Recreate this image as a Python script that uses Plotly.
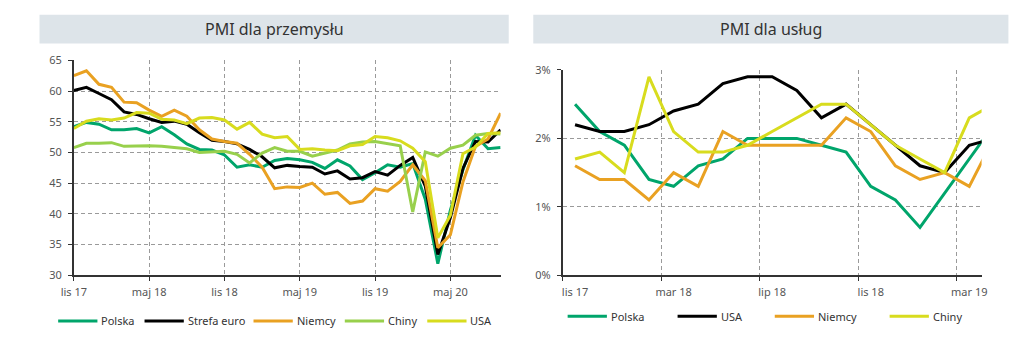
import plotly.graph_objects as go

W, H = 1036, 350


def px(x):
    return x / W


def py(y):
    return 1 - y / H


# ---------------- data: left chart (PMI dla przemysłu) ----------------
months_left = ["lis 17", "gru 17", "sty 18", "lut 18", "mar 18", "kwi 18", "maj 18",
               "cze 18", "lip 18", "sie 18", "wrz 18", "paź 18", "lis 18", "gru 18",
               "sty 19", "lut 19", "mar 19", "kwi 19", "maj 19", "cze 19", "lip 19",
               "sie 19", "wrz 19", "paź 19", "lis 19", "gru 19", "sty 20", "lut 20",
               "mar 20", "kwi 20", "maj 20", "cze 20", "lip 20", "sie 20", "wrz 20"]
pmi_polska = [54.2, 54.9, 54.6, 53.7, 53.7, 53.9, 53.2, 54.2, 52.9, 51.4, 50.5, 50.4,
              49.6, 47.6, 48.0, 47.6, 48.7, 49.0, 48.8, 48.4, 47.4, 48.8, 47.8, 45.6,
              46.7, 48.0, 47.6, 48.2, 42.4, 31.9, 40.6, 47.2, 52.8, 50.6, 50.8]
pmi_strefa = [60.1, 60.6, 59.6, 58.6, 56.6, 56.2, 55.5, 54.9, 55.1, 54.6, 53.2, 52.0,
              51.8, 51.4, 50.5, 49.3, 47.5, 47.9, 47.7, 47.6, 46.5, 47.0, 45.7, 45.9,
              46.9, 46.3, 47.9, 49.2, 44.5, 33.4, 39.4, 47.4, 51.8, 51.7, 53.7]
pmi_niemcy = [62.5, 63.3, 61.1, 60.6, 58.2, 58.1, 56.9, 55.9, 56.9, 55.9, 53.7, 52.2,
              51.8, 51.5, 49.7, 47.6, 44.1, 44.4, 44.3, 45.0, 43.2, 43.5, 41.7, 42.1,
              44.1, 43.7, 45.3, 48.0, 45.4, 34.5, 36.6, 45.2, 51.0, 52.2, 56.4]
pmi_chiny = [50.8, 51.5, 51.5, 51.6, 51.0, 51.1, 51.1, 51.0, 50.8, 50.6, 50.0, 50.1,
             50.2, 49.7, 48.3, 49.9, 50.8, 50.2, 50.2, 49.4, 49.9, 50.4, 51.4, 51.7,
             51.8, 51.5, 51.1, 40.3, 50.1, 49.4, 50.7, 51.2, 52.8, 53.1, 53.0]
pmi_usa = [53.9, 55.1, 55.5, 55.3, 55.6, 56.5, 56.4, 55.4, 55.3, 54.7, 55.6, 55.7,
           55.3, 53.8, 54.9, 53.0, 52.4, 52.6, 50.5, 50.6, 50.4, 50.3, 51.1, 51.3,
           52.6, 52.4, 51.9, 50.7, 48.5, 36.1, 39.8, 49.8, 50.9, 53.1, 53.2]
left_tick_idx = [0, 6, 12, 18, 24, 30]
left_yticks = [30, 35, 40, 45, 50, 55, 60, 65]

# ---------------- data: right chart (PMI dla usług) ----------------
months_right = ["lis 17", "gru 17", "sty 18", "lut 18", "mar 18", "kwi 18", "maj 18",
                "cze 18", "lip 18", "sie 18", "wrz 18", "paź 18", "lis 18", "gru 18",
                "sty 19", "lut 19", "mar 19", "kwi 19"]
r_polska = [2.5, 2.1, 1.9, 1.4, 1.3, 1.6, 1.7, 2.0, 2.0, 2.0, 1.9, 1.8, 1.3, 1.1, 0.7,
            1.2, 1.7, 2.2]
r_usa = [2.2, 2.1, 2.1, 2.2, 2.4, 2.5, 2.8, 2.9, 2.9, 2.7, 2.3, 2.5, 2.2, 1.9, 1.6,
         1.5, 1.9, 2.0]
r_niemcy = [1.6, 1.4, 1.4, 1.1, 1.5, 1.3, 2.1, 1.9, 1.9, 1.9, 1.9, 2.3, 2.1, 1.6, 1.4,
            1.5, 1.3, 2.0]
r_chiny = [1.7, 1.8, 1.5, 2.9, 2.1, 1.8, 1.8, 1.9, 2.1, 2.3, 2.5, 2.5, 2.2, 1.9, 1.7,
           1.5, 2.3, 2.5]
right_tick_idx = [0, 4, 8, 12, 16]
right_yticks = [0, 1, 2, 3]
right_yticktext = ["0%", "1%", "2%", "3%"]

C_GREEN = "#00a56b"
C_BLACK = "#000000"
C_ORANGE = "#e9a122"
C_LGREEN = "#98d04c"
C_YELLOW = "#d8dc1e"

FONT = "Noto Sans"
GRID = "#9a9a9a"
AXIS = "#333333"
TICKC = "#555555"
TEXTC = "#333333"

fig = go.Figure()

xl = list(range(len(months_left)))
xr = list(range(len(months_right)))

left_series = [("Polska", pmi_polska, C_GREEN, 46),
               ("Strefa euro", pmi_strefa, C_BLACK, 134),
               ("Niemcy", pmi_niemcy, C_ORANGE, 245),
               ("Chiny", pmi_chiny, C_LGREEN, 338),
               ("USA", pmi_usa, C_YELLOW, 422)]
right_series = [("Polska", r_polska, C_GREEN, 565),
                ("USA", r_usa, C_BLACK, 677),
                ("Niemcy", r_niemcy, C_ORANGE, 776),
                ("Chiny", r_chiny, C_YELLOW, 893)]


def add_legend_key(name, col, lx, ly):
    fig.add_shape(type="line", xref="paper", yref="paper", x0=px(lx), x1=px(lx + 40),
                  y0=py(ly), y1=py(ly), line=dict(color=col, width=3))
    fig.add_annotation(text=name, xref="paper", yref="paper", x=px(lx + 42), y=py(ly),
                       xanchor="left", yanchor="middle", showarrow=False,
                       font=dict(family=FONT, size=11, color=TEXTC))


for name, vals, col, lx in left_series:
    fig.add_trace(go.Scatter(x=xl, y=vals, mode="lines", name=name,
                             line=dict(color=col, width=3),
                             xaxis="x", yaxis="y", hoverinfo="skip", showlegend=False))
    add_legend_key(name, col, lx, 327)
for name, vals, col, lx in right_series:
    fig.add_trace(go.Scatter(x=xr, y=vals, mode="lines", name=name,
                             line=dict(color=col, width=3),
                             xaxis="x2", yaxis="y2", hoverinfo="skip", showlegend=False))
    add_legend_key(name, col, lx, 322)

common_axis = dict(showline=True, linecolor=AXIS, linewidth=1.5, zeroline=False,
                   tickfont=dict(family=FONT, size=11, color=TICKC),
                   gridcolor=GRID, gridwidth=1, griddash="4px,3px",
                   tickcolor=AXIS, fixedrange=True)

fig.update_layout(
    width=W, height=H, autosize=False,
    margin=dict(l=0, r=0, t=0, b=0),
    paper_bgcolor="white", plot_bgcolor="white",
    font=dict(family=FONT, color=TEXTC),
    showlegend=False,
    xaxis=dict(domain=[px(62), px(496.7)], range=[0, len(months_left) - 1],
               tickmode="array", tickvals=left_tick_idx,
               ticktext=[months_left[i] for i in left_tick_idx],
               showgrid=True, ticks="outside", ticklen=4, ticklabelstandoff=2,
               anchor="y", **common_axis),
    yaxis=dict(domain=[py(279.3), py(54.7)], range=[30, 65], tickmode="array",
               tickvals=left_yticks, showgrid=True, ticks="outside", ticklen=4,
               ticklabelstandoff=4, anchor="x", **common_axis),
    xaxis2=dict(domain=[px(560), px(986.7)], range=[-0.5, 16.5],
                tickmode="array", tickvals=right_tick_idx,
                ticktext=[months_right[i] for i in right_tick_idx],
                showgrid=False, ticks="", ticklabelstandoff=6, anchor="y2",
                minor=dict(tickmode="array", tickvals=[-0.5, 3.5, 7.5, 11.5, 15.5],
                           ticks="outside", ticklen=4, tickcolor=AXIS, showgrid=True,
                           gridcolor=GRID, gridwidth=1, griddash="4px,3px"),
                **common_axis),
    yaxis2=dict(domain=[py(279.3), py(64.7)], range=[0, 3], tickmode="array",
                tickvals=right_yticks, ticktext=right_yticktext, showgrid=True,
                ticks="outside", ticklen=4, ticklabelstandoff=4, anchor="x2",
                **common_axis),
)

# title boxes
fig.add_shape(type="rect", xref="paper", yref="paper", x0=px(27), x1=px(505),
              y0=py(37), y1=py(7), fillcolor="#dde4e9", line=dict(width=0), layer="below")
fig.add_shape(type="rect", xref="paper", yref="paper", x0=px(530), x1=px(1014),
              y0=py(37), y1=py(7), fillcolor="#dde4e9", line=dict(width=0), layer="below")
fig.add_annotation(text="PMI dla przemysłu", xref="paper", yref="paper", x=px(266),
                   y=py(22), xanchor="center", yanchor="middle", showarrow=False,
                   font=dict(family=FONT, size=16, color=TEXTC))
fig.add_annotation(text="PMI dla usług", xref="paper", yref="paper", x=px(772),
                   y=py(22), xanchor="center", yanchor="middle", showarrow=False,
                   font=dict(family=FONT, size=16, color=TEXTC))

fig.write_html(
    "out.html",
    post_script="document.documentElement.style.margin='0';"
                "document.body.style.margin='0';document.body.style.padding='0';"
                "document.body.style.overflow='hidden';",
)
